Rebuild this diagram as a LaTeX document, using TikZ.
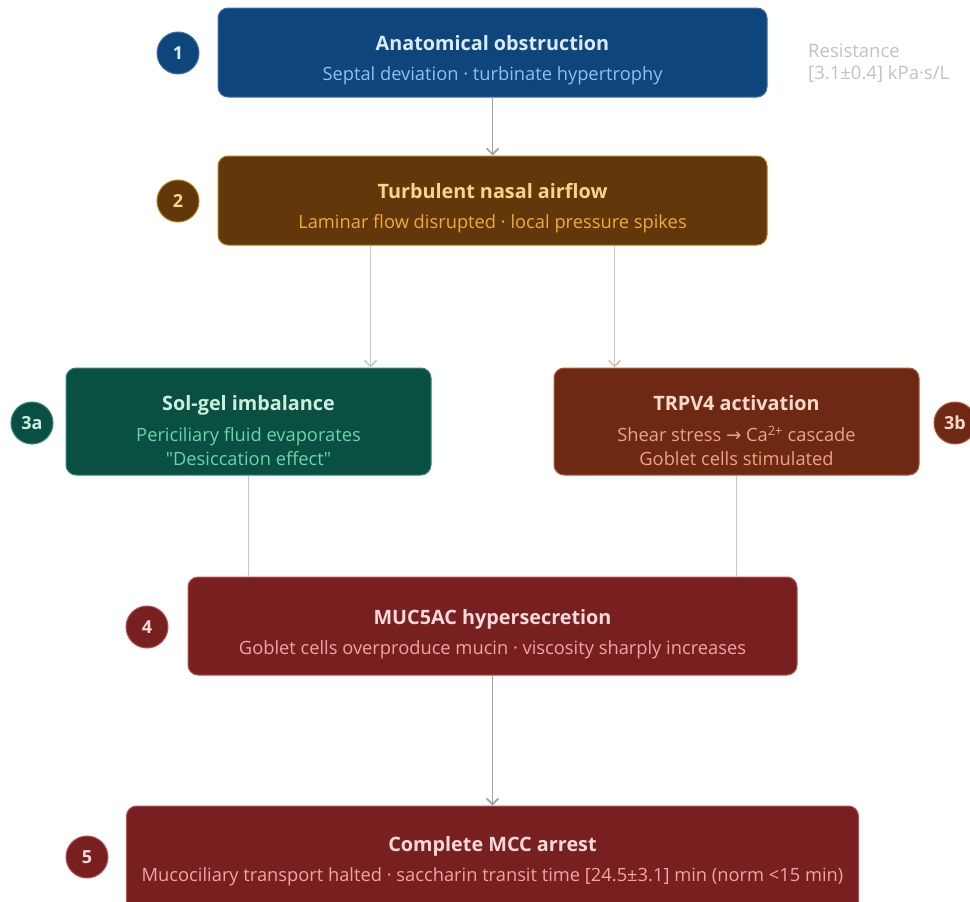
\documentclass[tikz,border=0pt]{standalone}
\usepackage{fontspec}
\setmainfont{Open Sans}
\newfontfamily\symfont{DejaVu Sans}
\usetikzlibrary{arrows.meta,calc}

\definecolor{obsFill}{HTML}{0E457A}
\definecolor{obsLine}{HTML}{3A72AE}
\definecolor{obsHead}{HTML}{DCEBFA}
\definecolor{obsText}{HTML}{8EC0F0}
\definecolor{airFill}{HTML}{62370A}
\definecolor{airLine}{HTML}{B8781E}
\definecolor{airHead}{HTML}{F8D48A}
\definecolor{airText}{HTML}{F2A93B}
\definecolor{solFill}{HTML}{0A5042}
\definecolor{solLine}{HTML}{2E8C6E}
\definecolor{solHead}{HTML}{CDEFE0}
\definecolor{solText}{HTML}{6ED3A6}
\definecolor{trpFill}{HTML}{6E2914}
\definecolor{trpLine}{HTML}{B8583A}
\definecolor{trpHead}{HTML}{FAD9C9}
\definecolor{trpText}{HTML}{F0A383}
\definecolor{mucFill}{HTML}{781F20}
\definecolor{mucLine}{HTML}{B85050}
\definecolor{mucHead}{HTML}{F8DADA}
\definecolor{mucText}{HTML}{F0A5A5}
\definecolor{wire}{HTML}{A3A39B}
\definecolor{wireLight}{HTML}{C9C9C1}
\definecolor{noteGray}{HTML}{C2C2BA}

\begin{document}
\begin{tikzpicture}[x=1pt, y=-1pt,
  stage/.style={rectangle, rounded corners=10pt, line width=1pt, align=center, inner sep=0pt,
    font=\fontsize{18.3}{20}\selectfont},
  badge/.style={circle, minimum size=42pt, inner sep=0pt, line width=1pt,
    font=\fontsize{18}{18}\selectfont\bfseries},
  >={Straight Barb[length=6pt, width=12pt]}]
  \useasboundingbox (0,0) rectangle (970,902);

  % stages (the rule pushes each text block a little below the middle)
  \node[stage, fill=obsFill, draw=obsLine, minimum width=549pt, minimum height=89pt] (b1) at (492.5,52.5)
    {\rule{0pt}{31pt}{\fontsize{19.8}{20}\selectfont\bfseries\color{obsHead}Anatomical obstruction}\\[10pt]
     \color{obsText}Septal deviation · turbinate hypertrophy};
  \node[stage, fill=airFill, draw=airLine, minimum width=549pt, minimum height=89pt] (b2) at (492.5,200.5)
    {\rule{0pt}{31pt}{\fontsize{19.8}{20}\selectfont\bfseries\color{airHead}Turbulent nasal airflow}\\[10pt]
     \color{airText}Laminar flow disrupted · local pressure spikes};
  \node[stage, fill=solFill, draw=solLine, minimum width=365pt, minimum height=107pt] (b3a) at (248.5,421.5)
    {\rule{0pt}{33pt}{\fontsize{19.8}{20}\selectfont\bfseries\color{solHead}Sol-gel imbalance}\\[11pt]
     \color{solText}Periciliary fluid evaporates\\[4pt]
     \color{solText}\textquotedbl Desiccation effect\textquotedbl};
  \node[stage, fill=trpFill, draw=trpLine, minimum width=365pt, minimum height=107pt] (b3b) at (736.5,421.5)
    {\rule{0pt}{33pt}{\fontsize{19.8}{20}\selectfont\bfseries\color{trpHead}TRPV4 activation}\\[11pt]
     \color{trpText}Shear stress {\symfont→} Ca\textsuperscript{2+} cascade\\[4pt]
     \color{trpText}Goblet cells stimulated};
  \node[stage, fill=mucFill, draw=mucLine, minimum width=609pt, minimum height=98pt] (b4) at (492.5,626)
    {\rule{0pt}{31pt}{\fontsize{19.8}{20}\selectfont\bfseries\color{mucHead}MUC5AC hypersecretion}\\[10pt]
     \color{mucText}Goblet cells overproduce mucin · viscosity sharply increases};
  \node[stage, fill=mucFill, draw=mucLine, minimum width=732pt, minimum height=110pt] (b5) at (492.5,861)
    {\rule{0pt}{16pt}{\fontsize{19.8}{20}\selectfont\bfseries\color{mucHead}Complete MCC arrest}\\[10pt]
     \color{mucText}Mucociliary transport halted · saccharin transit time [24.5±3.1] min (norm <15 min)};

  % step numbers
  \node[badge, fill=obsFill, draw=obsLine, text=obsHead] (n1) at (178,53) {1};
  \node[badge, fill=airFill, draw=airLine, text=airHead] (n2) at (178,201) {2};
  \node[badge, fill=solFill, draw=solLine, text=solHead] (n3a) at (32,423) {3a};
  \node[badge, fill=trpFill, draw=trpLine, text=trpHead] (n3b) at (955,423) {3b};
  \node[badge, fill=mucFill, draw=mucLine, text=mucHead] (n4) at (147,627) {4};
  \node[badge, fill=mucFill, draw=mucLine, text=mucHead] (n5) at (87,857) {5};

  \node[anchor=west, align=left, text=noteGray, inner sep=0pt,
    font=\fontsize{18.5}{22}\selectfont] (res) at (808,63) {Resistance\\{}[3.1±0.4] kPa·s/L};

  % connectors
  \coordinate (splitA) at ($(b2.center)!.5!(b3a.center)$);
  \coordinate (splitB) at ($(b2.center)!.5!(b3b.center)$);
  \path[->, draw=wire, line width=1.6pt]
  (b1) edge (b2)
  (b4) edge (b5);
  \draw[->, wireLight, line width=1.6pt] (splitA |- b2.south) -- (splitA |- b3a.north);
  \draw[->, wireLight, line width=1.6pt] (splitB |- b2.south) -- (splitB |- b3b.north);
  \draw[wireLight, line width=1.6pt] (b3a.south) -- (b3a.south |- b4.north);
  \draw[wireLight, line width=1.6pt] (b3b.south) -- (b3b.south |- b4.north);
\end{tikzpicture}
\end{document}
